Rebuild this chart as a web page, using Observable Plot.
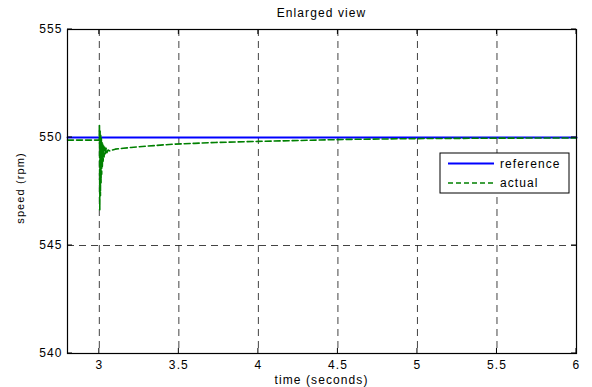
<!DOCTYPE html>
<html>
<head>
<meta charset="utf-8">
<script src="https://cdn.jsdelivr.net/npm/d3@7"></script>
<script src="https://cdn.jsdelivr.net/npm/@observablehq/plot@0.6"></script>
<style>
  html, body { margin: 0; padding: 0; background: #fff; }
  #chart { width: 592px; height: 387px; }
  #chart svg text { letter-spacing: 1.1px; }
</style>
</head>
<body>
<div id="chart"></div>
<script>
const titleText = "Enlarged view";
const xLabel = "time (seconds)";
const yLabel = "speed (rpm)";
const xTicks = [3, 3.5, 4, 4.5, 5, 5.5, 6];
const yTicks = [540, 545, 550, 555];
const seriesNames = ["reference", "actual"];

const refTime = [2.8, 6];
const refSpeed = [550, 550];

const actTime = [2.8, 2.999, 3.001, 3.003, 3.005, 3.007, 3.009, 3.011, 3.013, 3.015, 3.017, 3.019, 3.021, 3.024, 3.027, 3.030, 3.034, 3.038, 3.043, 3.048, 3.055, 3.065, 3.08, 3.1, 3.15, 3.2, 3.3, 3.46, 3.6, 3.73, 4.0, 4.19, 4.54, 5.0, 5.5, 6.0];
const actSpeed = [549.88, 549.88, 550.55, 546.65, 550.3, 547.3, 550.1, 547.9, 549.95, 548.3, 549.8, 548.6, 549.7, 548.9, 549.6, 549.1, 549.55, 549.25, 549.5, 549.3, 549.42, 549.38, 549.42, 549.46, 549.5, 549.54, 549.6, 549.69, 549.73, 549.77, 549.82, 549.85, 549.91, 549.95, 549.97, 549.98];

const ref = refTime.map((t, i) => ({t, v: refSpeed[i]}));
const act = actTime.map((t, i) => ({t, v: actSpeed[i]}));

const W = 592, H = 387;
const mL = 67, mR = 16, mT = 29, mB = 34;
const font = "Liberation Sans, Arial, sans-serif";

const plot = Plot.plot({
  width: W, height: H,
  marginLeft: mL, marginRight: mR, marginTop: mT, marginBottom: mB,
  style: {fontFamily: font, fontSize: "12px", color: "#000", background: "#fff"},
  x: {domain: [2.8, 6], ticks: xTicks, label: null},
  y: {domain: [540, 555], ticks: yTicks, label: null},
  marks: [
    Plot.gridX(xTicks.filter(d => d < 6), {stroke: "#222", strokeOpacity: 0.85, strokeDasharray: "7,5", strokeWidth: 1}),
    Plot.gridY(yTicks.filter(d => d > 540 && d < 555), {stroke: "#222", strokeOpacity: 0.85, strokeDasharray: "7,5", strokeWidth: 1}),
    Plot.axisX(xTicks, {anchor: "bottom", tickSize: 0, tickPadding: 7, fontSize: 12, tickFormat: d => String(d)}),
    Plot.axisY(yTicks, {anchor: "left", tickSize: 0, tickPadding: 5, fontSize: 12, tickFormat: d => String(d)}),
    Plot.line(ref, {x: "t", y: "v", stroke: "#0000ff", strokeWidth: 2}),
    Plot.line(act, {x: "t", y: "v", stroke: "#008000", strokeWidth: 1.6, strokeDasharray: "6,3"}),
    Plot.frame({stroke: "#000", strokeWidth: 1.2})
  ]
});

document.getElementById("chart").appendChild(plot);

const svg = d3.select(plot);
const xs = plot.scale("x"), ys = plot.scale("y");
const sx = v => xs.apply(v), sy = v => ys.apply(v);
const x0 = sx(2.8), x1 = sx(6), y0 = sy(540), y1 = sy(555);

// inward ticks on all four sides
const tg = svg.append("g").attr("stroke", "#000").attr("stroke-width", 1);
xTicks.forEach(t => {
  tg.append("line").attr("x1", sx(t)).attr("x2", sx(t)).attr("y1", y0).attr("y2", y0 - 5);
  tg.append("line").attr("x1", sx(t)).attr("x2", sx(t)).attr("y1", y1).attr("y2", y1 + 5);
});
yTicks.forEach(v => {
  tg.append("line").attr("x1", x0).attr("x2", x0 + 5).attr("y1", sy(v)).attr("y2", sy(v));
  tg.append("line").attr("x1", x1).attr("x2", x1 - 5).attr("y1", sy(v)).attr("y2", sy(v));
});

svg.append("text").attr("x", (x0 + x1) / 2).attr("y", 17).attr("text-anchor", "middle")
  .attr("font-family", font).attr("font-size", 12).attr("fill", "#000").text(titleText);
svg.append("text").attr("x", (x0 + x1) / 2).attr("y", 384).attr("text-anchor", "middle")
  .attr("font-family", font).attr("font-size", 12).attr("fill", "#000").text(xLabel);
svg.append("text").attr("transform", `translate(24,${(y0 + y1) / 2 - 3}) rotate(-90)`).attr("text-anchor", "middle")
  .attr("font-family", font).attr("font-size", 11).attr("fill", "#000").text(yLabel);

// legend
const lg = svg.append("g").attr("transform", "translate(440,153)");
lg.append("rect").attr("width", 129).attr("height", 40).attr("fill", "#fff").attr("stroke", "#000").attr("stroke-width", 1);
const legendStyles = [{stroke: "#0000ff", dash: null, w: 2}, {stroke: "#008000", dash: "5,3", w: 1.6}];
seriesNames.forEach((name, i) => {
  const yy = 10.5 + i * 19.5;
  lg.append("line").attr("x1", 8).attr("x2", 54).attr("y1", yy).attr("y2", yy)
    .attr("stroke", legendStyles[i].stroke).attr("stroke-width", legendStyles[i].w)
    .attr("stroke-dasharray", legendStyles[i].dash);
  lg.append("text").attr("x", 60).attr("y", yy + 4).attr("text-anchor", "start")
    .attr("font-family", font).attr("font-size", 12).attr("fill", "#000").text(name);
});
</script>
</body>
</html>
